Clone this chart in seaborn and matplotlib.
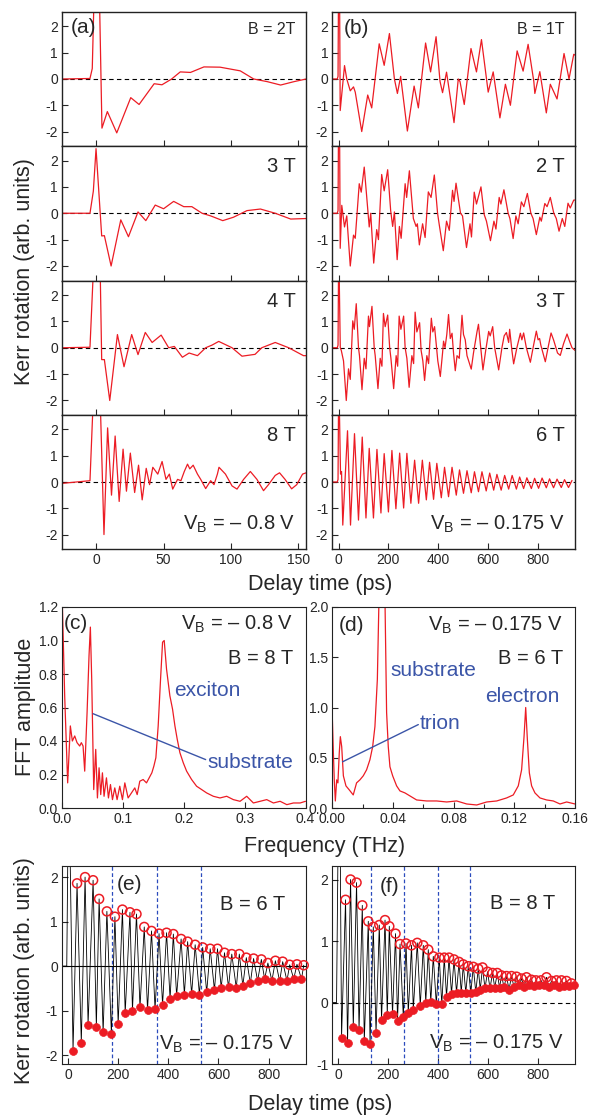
import pandas as pd
import seaborn as sns
import matplotlib.pyplot as plt

# ---------------- data ----------------
# (a) V_B = -0.8 V : (delay ps, Kerr rotation)
a_2T = [(-25, 0), (-4.7, 0.02), (-3, 0.4), (-1.5, 3.5), (2.2, 3.5), (4.2, -1.87), (8.2, -1.24),
        (15.2, -2.05), (25.6, -0.71), (31.8, -0.97), (43, -0.18), (48.8, -0.22), (56, 0),
        (62.4, 0.27), (70, 0.25), (80, 0.46), (92, 0.45), (107, 0.31), (117, 0), (127, -0.1),
        (137, -0.23), (147, -0.1), (156, 0)]
a_3T = [(-25, 0), (-4.7, 0), (-2.2, 0.84), (-0.2, 2.45), (4, -0.86), (6, -0.85), (11, -2.0),
        (18.2, -0.25), (23.9, -0.89), (31, 0.05), (36.8, -0.28), (43.8, 0.31), (50, 0.17),
        (57.5, 0.45), (65, 0.25), (71, 0.25), (78.6, 0), (85, -0.1), (94, -0.28), (102, -0.15),
        (112, 0.1), (122, 0.16), (133, 0), (144.5, -0.22), (156, -0.2)]
a_4T = [(-25, 0), (-4.7, 0.02), (-1.7, 3.5), (2.7, 3.5), (4, -0.45), (6, -0.45), (10, -2.0),
        (15.7, 0.5), (20.6, -0.72), (26.3, 0.5), (31, -0.26), (36.4, 0.58), (41.5, 0.2),
        (48.2, 0.48), (53.8, 0.0), (58, 0.05), (64, -0.36), (69, -0.2), (75.2, -0.3), (81.3, 0.0),
        (86, 0.1), (91, 0.24), (100.9, 0.0), (108.3, -0.32), (118, -0.25), (123, 0.0), (133, 0.2),
        (143, 0.0), (154, -0.3), (156, -0.3)]
a_8T = [(-25, -0.05), (-4.7, 0.05), (-2, 3.5), (2.7, 3.5), (5.7, -2.0), (8.4, 2.06), (11.3, -0.5),
        (14, 1.75), (17, -0.74), (19.9, 1.25), (22.4, -0.35), (25.3, 1.1), (28.5, -0.4), (31.4, 0.64),
        (34.1, -0.68), (37.1, 0.52), (39.6, -0.1), (42, 0.56), (45.7, 0.3), (48.9, 0.78), (51.8, 0.1),
        (54.3, 0.3), (56.8, -0.27), (60.4, 0.1), (62.9, 0.05), (65.4, 0.4), (67.8, 0.68), (69.5, 0.5),
        (72, 0.64), (75.2, 0.3), (77.6, 0.1), (81.3, -0.25), (85, 0.05), (87.5, -0.1), (90, 0.3),
        (91.2, 0.56), (96, 0.3), (100.9, -0.15), (104.6, -0.27), (109.5, 0.1), (114.5, 0.4),
        (119.4, 0.1), (124.3, -0.33), (128, -0.1), (133, 0.25), (136.2, 0.35), (140.3, 0.1),
        (145.2, -0.26), (149, -0.1), (153.3, 0.3), (156, 0.35)]

# (b) V_B = -0.175 V
b_1T = [(-25, 0), (-5, 0), (-2, 0.1), (0, 3.5), (4, 3.5), (6.7, -1.2), (24, 0.51), (33, 0),
        (47, -0.45), (60, -0.3), (67, -0.5), (93, -2.0), (117, -0.61), (133, -1.1), (163, 1.34),
        (183, 0.52), (204, 1.73), (224, 0.0), (236, -0.55), (249, 0.1), (276, -1.98), (303, -0.27),
        (320, -1.1), (349, 1.37), (369, 0.27), (391, 1.61), (407, -0.1), (417, -0.52), (433, 0.26),
        (463, -1.66), (480, 0.0), (487, -0.1), (504, -0.97), (531, 1.16), (553, 0.27), (573, 1.5),
        (600, -0.5), (620, 0.27), (647, -1.48), (669, -0.2), (689, -1.0), (716, 1.07), (740, 0.3),
        (760, 1.32), (783, -0.1), (787, -0.55), (807, 0.28), (833, -1.29), (849, -0.2), (876, -0.76),
        (904, 0.97), (924, 0.0), (943, 0.94), (950, 0.9)]
b_2T = [(-25, 0), (-5, 0), (-2, 0.1), (0, 3.5), (4, 3.5), (6.7, -1.33), (13, 0.3), (24, -0.52),
        (33, -0.1), (47, -2.0), (60, -0.83), (67, -0.95), (83, 1.12), (91, 0.8), (103, 1.75),
        (123, -0.52), (129, 0.0), (141, -1.89), (153, -0.62), (160, -1.0), (173, 1.47), (183, 0.85),
        (197, 1.65), (209, 0.1), (217, -0.5), (224, 0.05), (235, -1.76), (244, -0.5), (251, -0.95),
        (267, 1.12), (273, 0.6), (284, 1.61), (300, -0.2), (311, -0.5), (316, -0.4), (324, -1.2),
        (337, -0.4), (347, -0.92), (360, 0.81), (371, 0.6), (384, 1.45), (397, 0.0), (404, -0.45),
        (420, -1.42), (433, -0.3), (444, -0.65), (457, 0.87), (463, 0.45), (471, 1.14), (489, 0.0),
        (497, -0.1), (513, -1.3), (527, -0.4), (533, -0.9), (544, 0.8), (553, 0.35), (571, 1.0),
        (584, -0.05), (593, -0.3), (609, -1.04), (623, -0.3), (631, -0.6), (644, 0.6), (651, 0.35),
        (663, 0.89), (680, 0.0), (687, -0.2), (700, -0.96), (711, -0.1), (720, -0.4), (733, 0.43),
        (743, 0.25), (757, 0.75), (771, 0.0), (780, -0.2), (793, -0.81), (807, -0.15), (813, -0.3),
        (827, 0.37), (836, 0.25), (849, 0.6), (863, 0.0), (873, -0.2), (884, -0.68), (897, -0.2),
        (907, -0.5), (920, 0.38), (929, 0.2), (943, 0.5), (950, 0.5)]
b_3T = [(-25, 0), (-5, 0), (-2, 0.1), (0, 3.0), (3, 2.5), (7, 0.0), (11, -0.1), (20, -0.5),
        (31, -2.0), (40, -0.8), (47, -1.2), (57, 1.02), (63, 0.7), (71, 1.67), (80, 0.0), (84, -0.3),
        (94, -1.59), (103, -0.4), (110, -0.8), (120, 1.2), (124, 0.8), (134, 1.57), (143, 0.0),
        (147, -0.3), (158, -1.55), (167, -0.4), (174, -0.7), (180, 1.3), (187, 0.8), (197, 1.24),
        (205, 0.0), (210, -0.4), (221, -1.55), (231, -0.3), (237, -0.7), (243, 1.2), (250, 0.7),
        (261, 1.2), (267, 0.0), (274, -0.4), (283, -1.5), (294, -0.3), (301, -0.6), (307, 1.35),
        (314, 0.6), (325, 0.95), (331, -0.1), (338, -0.5), (345, -1.24), (354, -0.3), (361, -0.6),
        (372, 1.12), (378, 0.6), (385, 0.8), (394, -0.1), (398, -0.5), (408, -1.09), (417, -0.2),
        (421, 0.25), (427, 0.0), (434, 0.5), (441, 1.26), (448, 0.35), (455, 0.55), (461, -0.2),
        (468, -0.87), (475, -0.3), (484, -0.4), (495, 1.23), (501, 0.5), (508, 0.3), (515, -0.3),
        (532, -0.81), (541, -0.2), (548, 0.2), (555, 0.6), (561, 0.89), (568, 0.2), (579, -0.84),
        (590, -0.1), (602, 0.62), (608, 0.45), (618, 0.8), (626, 0.0), (642, -0.84), (655, 0.0),
        (664, 0.45), (673, 0.58), (682, 0.2), (686, 0.7), (695, -0.1), (702, -0.61), (715, 0.0),
        (729, 0.55), (735, 0.3), (742, 0.56), (753, 0.0), (769, -0.55), (782, 0.1), (793, 0.63),
        (800, 0.3), (806, 0.35), (811, 0.1), (829, -0.53), (842, 0.1), (852, 0.56), (862, 0.3),
        (878, -0.2), (889, -0.29), (902, 0.15), (916, 0.52), (926, 0.25), (936, 0.0), (948, -0.1)]
b_6T_start = [(-25, 0), (-5, 0), (-2, 0.1), (0, 3.0), (3, 3.0), (8, 0.3), (12, 0.4)]
b_6T_peaks = [(36, 1.95), (64, 1.84), (95, 1.71), (123, 1.28), (154, 1.24), (183, 1.08), (214, 1.2),
              (245, 1.1), (274, 1.09), (305, 0.83), (336, 0.83), (365, 0.75), (394, 0.71), (425, 0.56),
              (455, 0.56), (485, 0.46), (515, 0.43), (545, 0.39), (575, 0.39), (606, 0.34), (635, 0.29),
              (666, 0.25), (696, 0.25), (726, 0.19), (755, 0.16), (786, 0.14), (816, 0.15), (846, 0.12),
              (876, 0.11), (906, 0.09), (936, 0.06)]
b_6T_troughs = [(17, -1.64), (48, -1.64), (80, -1.45), (110, -1.37), (140, -1.37), (170, -1.18),
                (200, -1.14), (230, -1.02), (261, -0.99), (290, -0.81), (321, -0.81), (352, -0.68),
                (381, -0.66), (412, -0.6), (441, -0.56), (472, -0.5), (501, -0.43), (532, -0.41),
                (561, -0.37), (592, -0.34), (622, -0.31), (652, -0.31), (682, -0.27), (713, -0.27),
                (742, -0.25), (773, -0.25), (802, -0.24), (833, -0.22), (862, -0.22), (893, -0.21),
                (922, -0.21)]

# (c) FFT, V_B = -0.8 V, B = 8 T : (THz, amplitude)
c_fft = [(0.0, 1.3), (0.0044, 0.67), (0.0093, 0.15), (0.0137, 0.49), (0.017, 0.40), (0.0209, 0.43),
         (0.0247, 0.39), (0.0291, 0.37), (0.0318, 0.39), (0.0346, 0.37), (0.0373, 0.22), (0.0412, 0.57),
         (0.0444, 0.91), (0.0466, 1.08), (0.0488, 0.77), (0.0521, 0.11), (0.0554, 0.35), (0.0582, 0.06),
         (0.0609, 0.24), (0.0636, 0.08), (0.0664, 0.21), (0.0691, 0.07), (0.073, 0.18), (0.0763, 0.06),
         (0.0796, 0.14), (0.0829, 0.05), (0.0867, 0.12), (0.0905, 0.05), (0.0949, 0.13), (0.0993, 0.05),
         (0.1032, 0.15), (0.1086, 0.06), (0.1141, 0.09), (0.1196, 0.12), (0.1235, 0.08), (0.1278, 0.16),
         (0.1333, 0.17), (0.1388, 0.15), (0.1432, 0.18), (0.1476, 0.21), (0.1509, 0.25), (0.1542, 0.30),
         (0.158, 0.49), (0.1619, 0.77), (0.1652, 0.99), (0.1679, 1.0), (0.1717, 0.83), (0.1772, 0.67),
         (0.1816, 0.59), (0.1855, 0.49), (0.1893, 0.41), (0.1937, 0.33), (0.1992, 0.27), (0.2047, 0.22),
         (0.2129, 0.17), (0.2211, 0.13), (0.2294, 0.11), (0.2376, 0.09), (0.2486, 0.07), (0.2595, 0.06),
         (0.2705, 0.07), (0.2815, 0.05), (0.2925, 0.04), (0.3034, 0.07), (0.3144, 0.03), (0.3254, 0.04),
         (0.3363, 0.05), (0.3473, 0.03), (0.3583, 0.04), (0.3693, 0.02), (0.3802, 0.03), (0.3912, 0.03),
         (0.4, 0.04)]
# (d) FFT, V_B = -0.175 V, B = 6 T
d_fft = [(0.0, 0.91), (0.0007, 0.55), (0.0013, 0.28), (0.002, 0.07), (0.0029, 0.28), (0.0037, 0.25),
         (0.0046, 0.55), (0.0053, 0.71), (0.0062, 0.61), (0.0073, 0.32), (0.009, 0.22), (0.0112, 0.18),
         (0.0138, 0.13), (0.016, 0.25), (0.0182, 0.28), (0.0204, 0.32), (0.0226, 0.38), (0.0248, 0.48),
         (0.0266, 0.61), (0.0281, 0.81), (0.0297, 1.28), (0.0308, 2.1), (0.0314, 2.3), (0.0341, 2.3),
         (0.0347, 2.1), (0.0358, 0.95), (0.0369, 0.61), (0.038, 0.41), (0.0398, 0.32), (0.0424, 0.22),
         (0.0446, 0.17), (0.0479, 0.15), (0.0512, 0.12), (0.0556, 0.08), (0.0622, 0.07), (0.0688, 0.07),
         (0.0754, 0.06), (0.082, 0.07), (0.0886, 0.04), (0.0952, 0.03), (0.1018, 0.06), (0.1084, 0.07),
         (0.1149, 0.10), (0.1193, 0.13), (0.1226, 0.22), (0.1248, 0.38), (0.1264, 0.71), (0.1275, 1.0),
         (0.1286, 0.68), (0.1299, 0.35), (0.1314, 0.22), (0.1336, 0.15), (0.1369, 0.10), (0.1413, 0.08),
         (0.1457, 0.07), (0.1501, 0.04), (0.1545, 0.06), (0.16, 0.04)]

# (e) B = 6 T extrema : open circles = maxima, dots = minima
e_max = [(36, 1.86), (68, 2.0), (100, 1.93), (124, 1.51), (155, 1.23), (187, 1.11), (217, 1.27),
         (247, 1.21), (273, 1.17), (304, 0.88), (333, 0.79), (363, 0.73), (393, 0.75), (420, 0.72),
         (451, 0.61), (477, 0.55), (507, 0.48), (537, 0.42), (567, 0.39), (596, 0.39), (624, 0.30),
         (653, 0.27), (683, 0.27), (711, 0.19), (740, 0.17), (771, 0.15), (797, 0.07), (827, 0.12),
         (856, 0.10), (884, 0.03), (913, 0.04), (940, 0.02)]
e_min = [(20, -1.90), (53, -1.72), (80, -1.32), (113, -1.36), (140, -1.49), (173, -1.53), (200, -1.30),
         (228, -1.06), (257, -1.00), (287, -0.93), (317, -0.99), (347, -0.97), (377, -0.87), (407, -0.74),
         (433, -0.67), (464, -0.64), (493, -0.63), (524, -0.64), (553, -0.59), (584, -0.54), (611, -0.49),
         (640, -0.48), (671, -0.49), (697, -0.44), (727, -0.39), (756, -0.33), (784, -0.29), (813, -0.33),
         (844, -0.34), (873, -0.33), (900, -0.29), (931, -0.29)]
# (f) B = 8 T extrema
f_max = [(29, 1.67), (49, 2.0), (73, 1.95), (96, 1.58), (120, 1.32), (140, 1.23), (164, 1.26),
         (187, 1.34), (204, 1.24), (229, 1.12), (247, 0.95), (271, 0.96), (293, 0.93), (316, 0.97),
         (340, 0.93), (360, 0.86), (380, 0.75), (404, 0.73), (424, 0.73), (443, 0.73), (463, 0.70),
         (483, 0.66), (500, 0.62), (520, 0.59), (540, 0.58), (560, 0.55), (577, 0.57), (597, 0.50),
         (617, 0.48), (636, 0.48), (653, 0.44), (673, 0.43), (693, 0.43), (713, 0.42), (733, 0.39),
         (753, 0.41), (773, 0.37), (791, 0.36), (811, 0.36), (833, 0.41), (853, 0.35), (873, 0.36),
         (893, 0.36), (913, 0.35), (933, 0.31)]
f_min = [(13, -0.57), (37, -0.66), (60, -0.40), (83, -0.45), (104, -0.63), (127, -0.67), (151, -0.49),
         (173, -0.28), (196, -0.21), (217, -0.19), (237, -0.30), (260, -0.23), (280, -0.17), (300, -0.12),
         (328, -0.06), (350, 0.0), (370, 0.01), (392, -0.02), (414, -0.03), (433, 0.09), (453, 0.14),
         (473, 0.16), (492, 0.16), (510, 0.16), (530, 0.15), (550, 0.17), (568, 0.21), (587, 0.23),
         (607, 0.23), (626, 0.24), (645, 0.24), (663, 0.25), (683, 0.21), (703, 0.25), (723, 0.28),
         (743, 0.25), (763, 0.28), (782, 0.27), (801, 0.28), (822, 0.28), (843, 0.25), (863, 0.28),
         (883, 0.25), (903, 0.27), (923, 0.27), (943, 0.28)]
e_start = [(-24, 0), (-5, 0), (0, 3.0), (7, 3.0)]
f_start = [(-24, 0), (-7, 0), (0, 3.0), (7, 3.0)]

e_marks = [177, 353, 530]
f_marks = [132, 264, 398, 528]

# ---------------- style ----------------
sns.set_style("ticks")
plt.rcParams['font.family'] = ['Liberation Sans', 'DejaVu Sans']
plt.rcParams['mathtext.fontset'] = 'custom'
plt.rcParams['mathtext.rm'] = 'Liberation Sans'
plt.rcParams['axes.unicode_minus'] = False
plt.rcParams['xtick.direction'] = 'in'
plt.rcParams['ytick.direction'] = 'in'
plt.rcParams['axes.edgecolor'] = '#222222'

RED = '#ec1c24'
BLUE = '#3b55a8'
W, H = 590, 1116
fig = plt.figure(figsize=(W / 100, H / 100), dpi=100)


def add_ax(x0, y0, x1, y1):
    return fig.add_axes([x0 / W, 1 - y1 / H, (x1 - x0) / W, (y1 - y0) / H])


def trace(ax, pairs, color=RED, lw=0.9):
    df = pd.DataFrame(pairs, columns=['t', 'v'])
    sns.lineplot(data=df, x='t', y='v', ax=ax, color=color, lw=lw, estimator=None, sort=False)
    ax.set_xlabel('')
    ax.set_ylabel('')


def style(ax, lw=1.0):
    ax.tick_params(length=4, width=0.8, labelsize=10, pad=3)
    for s in ax.spines.values():
        s.set_linewidth(lw)


def vb(v):
    return r'V$_{\mathrm{B}}$ = – ' + v + ' V'


# ---------------- (a) and (b) ----------------
rows = [(12, 146), (146, 280.5), (280.5, 415), (415, 549)]
a_data = [a_2T, a_3T, a_4T, a_8T]
a_tags = ['B = 2T', '3 T', '4 T', '8 T']
b_data = [b_1T, b_2T, b_3T, sorted(b_6T_start + b_6T_peaks + b_6T_troughs)]
b_tags = ['B = 1T', '2 T', '3 T', '6 T']

for i, (y0, y1) in enumerate(rows):
    for col in range(2):
        if col == 0:
            ax = add_ax(62, y0, 305.5, y1)
            trace(ax, a_data[i])
            ax.set_xlim(-25.5, 155.5)
            ax.set_xticks([0, 50, 100, 150])
            xr = 148
        else:
            ax = add_ax(332.3, y0, 575, y1)
            trace(ax, b_data[i])
            ax.set_xlim(-25, 948)
            ax.set_xticks([0, 200, 400, 600, 800])
            xr = 907
        ax.set_ylim(-2.55, 2.55)
        ax.set_yticks([-2, -1, 0, 1, 2])
        ax.axhline(0, color='k', lw=0.8, ls=(0, (4, 3)), zorder=1)
        style(ax)
        if i < 3:
            ax.tick_params(labelbottom=False)
        tags = a_tags if col == 0 else b_tags
        if i == 0:
            ax.text(xr, 1.9, tags[i], ha='right', va='center', fontsize=11.5)
            if col == 0:
                ax.text(-19, 1.97, '(a)', ha='left', va='center', fontsize=15)
            else:
                ax.text(20, 1.94, '(b)', ha='left', va='center', fontsize=15)
        else:
            ax.text(xr, 1.77, tags[i], ha='right', va='center', fontsize=14.5)
        if i == 3:
            ax.text(xr, -1.62, vb('0.8' if col == 0 else '0.175'),
                    ha='right', va='center', fontsize=14.5)

fig.text(25 / W, 1 - 272 / H, 'Kerr rotation (arb. units)', rotation=90,
         ha='center', va='center', fontsize=15.5)
fig.text(320 / W, 1 - 590 / H, 'Delay time (ps)', ha='center', va='baseline', fontsize=15.5)

# ---------------- (c) ----------------
axc = add_ax(62, 607, 305.5, 808)
trace(axc, c_fft)
axc.set_xlim(0, 0.4)
axc.set_ylim(0, 1.2)
axc.set_xticks([0, 0.1, 0.2, 0.3, 0.4])
axc.set_xticklabels(['0.0', '0.1', '0.2', '0.3', '0.4'])
axc.set_yticks([0, 0.2, 0.4, 0.6, 0.8, 1.0, 1.2])
axc.set_yticklabels(['0.0', '0.2', '0.4', '0.6', '0.8', '1.0', '1.2'])
style(axc, 0.8)
axc.text(0.003, 1.10, '(c)', ha='left', va='center', fontsize=15)
axc.text(0.38, 1.095, vb('0.8'), ha='right', va='center', fontsize=14.5)
axc.text(0.38, 0.895, 'B = 8 T', ha='right', va='center', fontsize=14.5)
axc.text(0.184, 0.70, 'exciton', color=BLUE, ha='left', va='center', fontsize=15)
axc.text(0.239, 0.27, 'substrate', color=BLUE, ha='left', va='center', fontsize=15)
axc.plot([0.051, 0.236], [0.563, 0.289], color=BLUE, lw=1)

# ---------------- (d) ----------------
axd = add_ax(332.3, 607, 575, 808)
trace(axd, d_fft)
axd.set_xlim(0, 0.16)
axd.set_ylim(0, 2.0)
axd.set_xticks([0, 0.04, 0.08, 0.12, 0.16])
axd.set_xticklabels(['0.00', '0.04', '0.08', '0.12', '0.16'])
axd.set_xticks([0.02, 0.06, 0.10, 0.14], minor=True)
axd.set_yticks([0, 0.5, 1.0, 1.5, 2.0])
axd.set_yticklabels(['0.0', '0.5', '1.0', '1.5', '2.0'])
style(axd, 0.8)
axd.tick_params(which='minor', length=3, width=0.8)
axd.text(0.004, 1.82, '(d)', ha='left', va='center', fontsize=15)
axd.text(0.152, 1.82, vb('0.175'), ha='right', va='center', fontsize=14.5)
axd.text(0.152, 1.49, 'B = 6 T', ha='right', va='center', fontsize=14.5)
axd.text(0.038, 1.37, 'substrate', color=BLUE, ha='left', va='center', fontsize=15)
axd.text(0.101, 1.11, 'electron', color=BLUE, ha='left', va='center', fontsize=15)
axd.text(0.0574, 0.84, 'trion', color=BLUE, ha='left', va='center', fontsize=15)
axd.plot([0.0068, 0.0567], [0.46, 0.83], color=BLUE, lw=1)

fig.text(25 / W, 1 - 707 / H, 'FFT amplitude', rotation=90, ha='center', va='center', fontsize=15.5)
fig.text(325 / W, 1 - 852 / H, 'Frequency (THz)', ha='center', va='baseline', fontsize=15.5)

# ---------------- (e) and (f) ----------------
for ax_box, start, mx, mn, marks, ylim, yt, zls in [
        ((62, 866, 305.5, 1064), e_start, e_max, e_min, e_marks, (-2.2, 2.25), [-2, -1, 0, 1, 2], '-'),
        ((332.3, 866, 575, 1064), f_start, f_max, f_min, f_marks, (-1.0, 2.22), [-1, 0, 1, 2], (0, (4, 3)))]:
    ax = add_ax(*ax_box)
    ax.axhline(0, color='k', lw=0.8, ls=zls, zorder=1)
    for m in marks:
        ax.axvline(m, color='#2b4bbd', lw=0.9, ls=(0, (3, 2)), zorder=1)
    trace(ax, start + sorted(mx + mn), color='k', lw=0.6)
    dmax = pd.DataFrame(mx, columns=['t', 'v'])
    dmin = pd.DataFrame(mn, columns=['t', 'v'])
    sns.scatterplot(data=dmin, x='t', y='v', ax=ax, s=32, color=RED, edgecolor=RED,
                    linewidth=0.5, zorder=3, clip_on=False)
    sns.scatterplot(data=dmax, x='t', y='v', ax=ax, s=42, marker='o', facecolor='none',
                    edgecolor=RED, linewidth=1.1, zorder=3, clip_on=False)
    ax.set_xlabel('')
    ax.set_ylabel('')
    ax.set_xlim(-24, 947)
    ax.set_ylim(*ylim)
    ax.set_xticks([0, 200, 400, 600, 800])
    ax.set_yticks(yt)
    style(ax, 0.8)

axe, axf = fig.axes[-2], fig.axes[-1]
axe.text(247, 1.84, '(e)', ha='center', va='center', fontsize=15)
axe.text(867, 1.39, 'B = 6 T', ha='right', va='center', fontsize=14.5)
axe.text(900, -1.75, vb('0.175'), ha='right', va='center', fontsize=14.5)
axf.text(207, 1.88, '(f)', ha='center', va='center', fontsize=15)
axf.text(867, 1.61, 'B = 8 T', ha='right', va='center', fontsize=14.5)
axf.text(900, -0.67, vb('0.175'), ha='right', va='center', fontsize=14.5)

fig.text(25 / W, 1 - 971 / H, 'Kerr rotation (arb. units)', rotation=90,
         ha='center', va='center', fontsize=15.5)
fig.text(320 / W, 1 - 1110 / H, 'Delay time (ps)', ha='center', va='baseline', fontsize=15.5)

fig.savefig('out.png', dpi=100)
